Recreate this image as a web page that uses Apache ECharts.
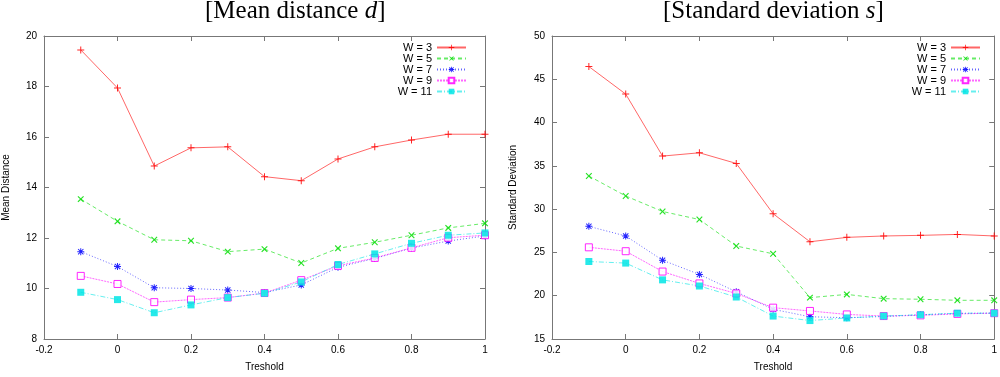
<!DOCTYPE html>
<html><head><meta charset="utf-8">
<script src="https://cdn.jsdelivr.net/npm/echarts@6/dist/echarts.min.js"></script>
<style>html,body{margin:0;padding:0;background:#fff}#c{width:1000px;height:377px}</style>
</head><body><div id="c"></div>
<script>
const thresholds = [-0.1, 0, 0.1, 0.2, 0.3, 0.4, 0.5, 0.6, 0.7, 0.8, 0.9, 1.0];
const seriesNames = ['W = 3', 'W = 5', 'W = 7', 'W = 9', 'W = 11'];
const xTicks = [-0.2, 0, 0.2, 0.4, 0.6, 0.8, 1];

// Mean distance d
const meanW3  = [19.45, 17.94, 14.85, 15.57, 15.61, 14.43, 14.27, 15.13, 15.61, 15.88, 16.11, 16.11];
const meanW5  = [13.54, 12.66, 11.93, 11.89, 11.46, 11.56, 11.01, 11.59, 11.83, 12.11, 12.40, 12.58];
const meanW7  = [11.46, 10.87, 10.03, 10.00, 9.94, 9.84, 10.14, 10.84, 11.19, 11.60, 11.88, 12.08];
const meanW9  = [10.50, 10.18, 9.46, 9.56, 9.64, 9.82, 10.33, 10.90, 11.21, 11.61, 12.01, 12.11];
const meanW11 = [9.85, 9.56, 9.04, 9.35, 9.64, 9.81, 10.26, 10.95, 11.37, 11.79, 12.11, 12.20];

// Standard deviation s
const stdW3  = [46.47, 43.29, 36.13, 36.51, 35.28, 29.47, 26.23, 26.74, 26.90, 26.97, 27.08, 26.90];
const stdW5  = [33.83, 31.52, 29.73, 28.80, 25.74, 24.84, 19.78, 20.15, 19.66, 19.59, 19.47, 19.47];
const stdW7  = [28.01, 26.90, 24.10, 22.46, 20.45, 18.43, 17.57, 17.46, 17.60, 17.80, 17.95, 18.00];
const stdW9  = [25.59, 25.14, 22.79, 21.42, 20.26, 18.62, 18.24, 17.84, 17.65, 17.73, 17.90, 17.98];
const stdW11 = [23.95, 23.77, 21.83, 21.12, 19.85, 17.65, 17.13, 17.43, 17.65, 17.80, 17.98, 17.98];

const meanSets = [meanW3, meanW5, meanW7, meanW9, meanW11];
const stdSets = [stdW3, stdW5, stdW7, stdW9, stdW11];

const colors = ['#ff0000', '#00dd00', '#0000ff', '#ff00ff', '#00e5e5'];
const plusPath = 'path://M3,0H4V3H7V4H4V7H3V4H0V3H3Z';
const starPath = 'path://M3,0H4V3H7V4H4V7H3V4H0V3H3Z M0.5,1.2L1.2,0.5L3.5,2.8L5.8,0.5L6.5,1.2L4.2,3.5L6.5,5.8L5.8,6.5L3.5,4.2L1.2,6.5L0.5,5.8L2.8,3.5Z';
const styles = [
  {symbol: plusPath, rot: 0, size: 7, dash: 'solid', fill: colors[0], border: 0},
  {symbol: plusPath, rot: 45, size: 8, dash: [4, 3], fill: colors[1], border: 0},
  {symbol: starPath, rot: 0, size: 7, dash: [1, 2], fill: colors[2], border: 0},
  {symbol: 'rect', rot: 0, size: 7, dash: [2, 1], fill: '#fff', border: 1},
  {symbol: 'rect', rot: 0, size: 7, dash: [5, 2, 1, 2], fill: colors[4], border: 0}
];

const font = 'Liberation Sans, Arial, sans-serif';
const axisColor = '#777';

function xAxes(gi) {
  const base = {type: 'value', gridIndex: gi, min: -0.2, max: 1, interval: 0.2,
    axisLine: {show: true, onZero: false, lineStyle: {color: axisColor, width: 1}},
    axisTick: {show: true, inside: true, length: 5, lineStyle: {color: axisColor}},
    splitLine: {show: false}};
  return [
    Object.assign({}, base, {position: 'bottom', name: 'Treshold', nameLocation: 'middle', nameGap: 23,
      nameTextStyle: {fontFamily: font, fontSize: 10, color: '#000'},
      axisLabel: {fontFamily: font, fontSize: 10, color: '#000', margin: 6}}),
    Object.assign({}, base, {position: 'top', axisLabel: {show: false}})
  ];
}
function yAxes(gi, min, max, interval, name, gap) {
  const base = {type: 'value', gridIndex: gi, min: min, max: max, interval: interval,
    axisLine: {show: true, onZero: false, lineStyle: {color: axisColor, width: 1}},
    axisTick: {show: true, inside: true, length: 5, lineStyle: {color: axisColor}},
    splitLine: {show: false}};
  return [
    Object.assign({}, base, {position: 'left', name: name, nameLocation: 'middle', nameGap: gap,
      nameTextStyle: {fontFamily: font, fontSize: 10, color: '#000'},
      axisLabel: {fontFamily: font, fontSize: 10, color: '#000', margin: 7}}),
    Object.assign({}, base, {position: 'right', axisLabel: {show: false}})
  ];
}

const series = [];
[meanSets, stdSets].forEach((sets, gi) => {
  sets.forEach((vals, i) => {
    const st = styles[i];
    series.push({
      name: seriesNames[i], type: 'line', xAxisIndex: gi * 2, yAxisIndex: gi * 2,
      data: thresholds.map((t, k) => [t, vals[k]]),
      symbol: st.symbol, symbolSize: st.size, symbolRotate: st.rot, showSymbol: true,
      lineStyle: {color: colors[i], width: 1, type: st.dash, opacity: 0.6},
      itemStyle: {color: st.fill, borderColor: colors[i], borderWidth: st.border, opacity: 0.85},
      animation: false
    });
  });
});

function legend(right) {
  return {show: true, orient: 'vertical', right: right, top: 37, align: 'right',
    itemWidth: 29, itemHeight: 7, itemGap: 0,
    textStyle: {fontFamily: font, fontSize: 11, color: '#000', lineHeight: 10, padding: [0, 0, 0, 0]},
    data: seriesNames, selectedMode: false};
}

const serif = 'Liberation Serif, Times New Roman, serif';
const rich = {n: {fontFamily: serif, fontSize: 25, fill: '#000'}, i: {fontFamily: serif, fontStyle: 'italic', fontSize: 25, fill: '#000'}};
const option = {
  animation: false,
  grid: [
    {left: 39, right: 515, top: 36, bottom: 28},
    {left: 552, right: 2, top: 36, bottom: 28}
  ],
  xAxis: [...xAxes(0), ...xAxes(1)],
  yAxis: [...yAxes(0, 8, 20, 2, 'Mean Distance', 33), ...yAxes(1, 15, 50, 5, 'Standard Deviation', 34)],
  legend: [legend(528), legend(14)],
  series: series,
  graphic: [
    {type: 'text', left: 205, top: -1, style: {text: '{n|[Mean distance }{i|d}{n|]}', rich: rich}},
    {type: 'text', left: 663, top: -1, style: {text: '{n|[Standard deviation }{i|s}{n|]}', rich: rich}}
  ]
};
const chart = echarts.init(document.getElementById('c'), null, {renderer: 'canvas'});
chart.setOption(option);
</script></body></html>
